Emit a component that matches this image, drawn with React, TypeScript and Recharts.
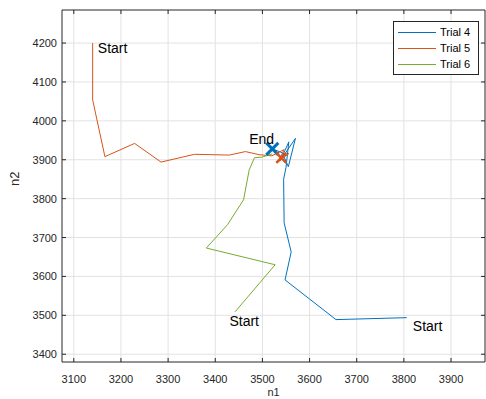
import React from 'react'
import { ComposedChart, Line, Scatter, XAxis, YAxis, CartesianGrid, Legend } from 'recharts'

const xTicks = [3100, 3200, 3300, 3400, 3500, 3600, 3700, 3800, 3900]
const yTicks = [3400, 3500, 3600, 3700, 3800, 3900, 4000, 4100, 4200]

const trial4 = [
  { x: 3806, y: 3494 },
  { x: 3656, y: 3489 },
  { x: 3548, y: 3591 },
  { x: 3561, y: 3663 },
  { x: 3546, y: 3738 },
  { x: 3545, y: 3850 },
  { x: 3550, y: 3880 },
  { x: 3556, y: 3946 },
  { x: 3538, y: 3898 },
  { x: 3570, y: 3955 },
  { x: 3555, y: 3882 },
  { x: 3542, y: 3918 },
  { x: 3521, y: 3928 }
]

const trial5 = [
  { x: 3140, y: 4200 },
  { x: 3140, y: 4054 },
  { x: 3166, y: 3908 },
  { x: 3229, y: 3942 },
  { x: 3285, y: 3894 },
  { x: 3356, y: 3914 },
  { x: 3430, y: 3912 },
  { x: 3464, y: 3921 },
  { x: 3493, y: 3913 },
  { x: 3520, y: 3910 },
  { x: 3546, y: 3926 },
  { x: 3534, y: 3895 },
  { x: 3556, y: 3916 },
  { x: 3540, y: 3905 }
]

const trial6 = [
  { x: 3442, y: 3509 },
  { x: 3527, y: 3630 },
  { x: 3381, y: 3673 },
  { x: 3426, y: 3733 },
  { x: 3460, y: 3797 },
  { x: 3472, y: 3874 },
  { x: 3483, y: 3905 },
  { x: 3500, y: 3907 },
  { x: 3521, y: 3915 }
]

const endMarks4 = [{ x: 3521, y: 3928 }]
const endMarks5 = [{ x: 3540, y: 3905 }]

const labels = [
  { x: 3151, y: 4187, text: 'Start' },
  { x: 3430, y: 3486, text: 'Start' },
  { x: 3819, y: 3473, text: 'Start' },
  { x: 3472, y: 3953, text: 'End' }
]

const series = [
  { name: 'Trial 4', data: trial4, color: '#0072BD' },
  { name: 'Trial 5', data: trial5, color: '#D95319' },
  { name: 'Trial 6', data: trial6, color: '#77AC30' }
]

const axisColor = '#262626'
const font = '"Liberation Sans", Arial, sans-serif'

const BottomTick = (props: any) => {
  const { x, y, payload } = props
  return (
    <g>
      <line x1={x} y1={y} x2={x} y2={y - 4} stroke={axisColor} />
      <text x={x} y={y + 21} textAnchor="middle" fill={axisColor} fontSize={11} fontFamily={font}>
        {payload.value}
      </text>
    </g>
  )
}

const LeftTick = (props: any) => {
  const { x, y, payload } = props
  return (
    <g>
      <line x1={x} y1={y} x2={x + 4} y2={y} stroke={axisColor} />
      <text x={x - 5} y={y + 4} textAnchor="end" fill={axisColor} fontSize={11} fontFamily={font}>
        {payload.value}
      </text>
    </g>
  )
}

const TopTick = (props: any) => {
  const { x, y } = props
  return <line x1={x} y1={y} x2={x} y2={y + 4} stroke={axisColor} />
}

const RightTick = (props: any) => {
  const { x, y } = props
  return <line x1={x} y1={y} x2={x - 4} y2={y} stroke={axisColor} />
}

const makeCross = (color: string, size: number, width: number) => (props: any) => {
  const { cx, cy } = props
  return (
    <g>
      <line x1={cx - size} y1={cy - size} x2={cx + size} y2={cy + size} stroke={color} strokeWidth={width} />
      <line x1={cx - size} y1={cy + size} x2={cx + size} y2={cy - size} stroke={color} strokeWidth={width} />
    </g>
  )
}

const TextMark = (props: any) => {
  const { cx, cy, payload } = props
  return (
    <text x={cx} y={cy + 5} fill="#000" fontSize={14} fontFamily={font}>
      {payload.text}
    </text>
  )
}

const LegendBox = () => (
  <div
    style={{
      border: '1px solid #262626',
      background: '#fff',
      padding: '2px 4px',
      fontFamily: font,
      fontSize: 11,
      color: '#000',
      width: 76
    }}
  >
    {series.map((s) => (
      <div key={s.name} style={{ display: 'flex', alignItems: 'center', height: 16 }}>
        <span style={{ display: 'inline-block', width: 38, height: 1, background: s.color, marginRight: 4 }} />
        <span>{s.name}</span>
      </div>
    ))}
  </div>
)

export default function App() {
  return (
    <div style={{ position: 'absolute', left: 0, top: 0, width: 486, height: 399, background: '#fff' }}>
      <ComposedChart width={486} height={399} margin={{ top: 0, right: 0, bottom: 0, left: 0 }}>
        <CartesianGrid stroke="#e2e2e2" horizontalValues={yTicks} verticalValues={xTicks} />
        <XAxis
          dataKey="x"
          type="number"
          domain={[3075, 3972]}
          ticks={xTicks}
          allowDataOverflow
          height={37}
          stroke={axisColor}
          tickSize={0}
          tickMargin={0}
          tick={<BottomTick />}
          label={{ value: 'n1', position: 'insideBottom', offset: 3, fill: axisColor, fontSize: 11, fontFamily: font }}
        />
        <XAxis
          xAxisId="top"
          orientation="top"
          dataKey="x"
          type="number"
          domain={[3075, 3972]}
          ticks={xTicks}
          allowDataOverflow
          height={10}
          stroke={axisColor}
          tickSize={0}
          tickMargin={0}
          tick={<TopTick />}
        />
        <YAxis
          dataKey="y"
          type="number"
          domain={[3380, 4285]}
          ticks={yTicks}
          allowDataOverflow
          width={62}
          stroke={axisColor}
          tickSize={0}
          tickMargin={0}
          tick={<LeftTick />}
          label={{ value: 'n2', angle: -90, position: 'insideLeft', offset: 14, fill: axisColor, fontSize: 13, fontFamily: font }}
        />
        <YAxis
          yAxisId="right"
          orientation="right"
          dataKey="y"
          type="number"
          domain={[3380, 4285]}
          ticks={yTicks}
          allowDataOverflow
          width={1}
          stroke={axisColor}
          tickSize={0}
          tickMargin={0}
          tick={<RightTick />}
        />
        {series.map((s) => (
          <Line
            key={s.name}
            name={s.name}
            data={s.data}
            dataKey="y"
            type="linear"
            stroke={s.color}
            strokeWidth={1}
            dot={false}
            activeDot={false}
            isAnimationActive={false}
          />
        ))}
        <Scatter data={endMarks4} dataKey="y" shape={makeCross('#0072BD', 6, 3)} isAnimationActive={false} legendType="none" />
        <Scatter data={endMarks5} dataKey="y" shape={makeCross('#D95319', 5, 2.5)} isAnimationActive={false} legendType="none" />
        <Scatter data={labels} dataKey="y" shape={<TextMark />} isAnimationActive={false} legendType="none" />
        <Legend
          layout="horizontal"
          verticalAlign="middle"
          align="center"
          content={<LegendBox />}
          wrapperStyle={{ top: 21, left: 393, width: 86 }}
        />
      </ComposedChart>
    </div>
  )
}
